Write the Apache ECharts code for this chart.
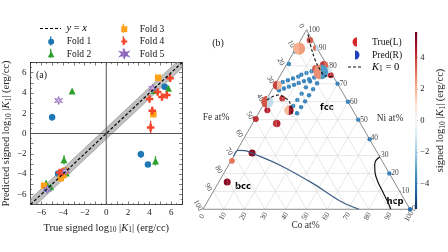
<!DOCTYPE html>
<html>
<head>
<meta charset="utf-8">
<style>
  html, body { margin: 0; padding: 0; background: #fff; }
  #chart { width: 448px; height: 252px; }
</style>
</head>
<body>
<div id="chart"></div>
<script src="https://cdn.jsdelivr.net/npm/echarts@6/dist/echarts.min.js"></script>
<script>
// ---- panel (a): [true, predicted, error] per fold ----
var fold1 = [[-5.0, 1.6, 0.35], [5.4, 4.6, 0.2], [3.2, -2.05, 0.35], [3.85, -3.05, 0.15], [-4.45, -3.95, 0.15], [-5.5, -5.45, 0.15]];
var fold2 = [[-3.15, 4.2, 0.15], [5.75, 4.45, 0.2], [4.45, 4.25, 0.15], [4.55, -2.7, 0.45], [-3.9, -2.6, 0.45], [-5.55, -4.9, 0.3], [-3.7, -3.9, 0.2], [-5.15, -5.25, 0.2]];
var fold3 = [[4.8, 5.5, 0.15], [4.35, 1.9, 0.3], [-5.75, -5.15, 0.2], [-4.2, -4.4, 0.2], [-3.95, -4.1, 0.2], [-3.75, -3.65, 0.2]];
var fold4 = [[5.9, 5.45, 0.2], [4.75, 4.1, 0.2], [5.15, 3.6, 0.2], [5.6, 3.8, 0.2], [4.0, 3.4, 0.2], [4.25, 2.25, 0.4], [4.1, 0.6, 0.65], [-4.3, -3.85, 0.15], [-4.05, -3.8, 0.2]];
var fold5 = [[-4.4, 3.25, 0.2], [4.3, 4.45, 0.2], [-3.75, -3.7, 0.2], [-5.45, -5.5, 0.15]];
var bandHalf = 0.55;
var axTicks = [-6, -4, -2, 0, 2, 4, 6];

// ---- panel (b): ternary Fe-Co-Ni, compositions in at% ----
var triCo   = [3, 5, 7, 9, 10, 12, 14, 15,  3.5, 5.4, 7.3, 9.3, 11, 13, 15, 17,  16, 15.7, 15.4, 15.1, 14.8, 14.5,  20, 19.7, 19.4, 19.2, 18.9, 18.6,  30, 40, 50, 61, 80, 100, 1, 0.5,
               4.5, 9.5, 15.2, 18.3, 24.3, 22.1, 1.3, 7.4, 3.5, 0.3, 11.7, 13.9, 1.1, 1.6, 8.0, 4.1, 0.5, 18.6];
var triNi   = [71, 72, 73, 74, 75, 76, 77, 77.5,  66.4, 67.4, 68.4, 69.4, 70.5, 71.5, 72.5, 73.5,  71.4, 68, 64.5, 61, 57.6, 54,  70.3, 67, 63.6, 60.2, 57, 53.6,  70, 60, 50, 39, 20, 0, 81, 88,
               94.3, 90, 78.5, 80.3, 74.8, 77.5, 69.2, 61.8, 55.2, 50.4, 47.8, 55.2, 59.9, 89.6, 31.4, 15.2, 27, 76.6];
var triTrue = [-3.8, -3.7, -3.8, -3.6, -3.7, -3.8, -3.6, -3.7,  -3.7, -3.8, -3.6, -3.7, -3.8, -3.7, -3.6, -3.8,  -3.7, -3.6, -3.8, -3.7, -3.6, -3.7,  -3.8, -3.7, -3.6, -3.7, -3.8, -3.7,  -3.9, -3.7, -3.8, -4.0, -3.9, -4.2, -3.6, -3.4,
               3.6, 3.2, 3.5, 4.0, 4.2, -1.2, 3.8, 4.0, 4.5, 4.3, 4.0, 1.8, 3.5, 2.0, 5.0, 5.1, 3.0, 2.6];
var triPred = [-3.7, -3.8, -3.6, -3.7, -3.8, -3.6, -3.7, -3.6,  -3.8, -3.7, -3.7, -3.6, -3.7, -3.8, -3.7, -3.6,  -3.8, -3.7, -3.7, -3.6, -3.7, -3.8,  -3.7, -3.6, -3.7, -3.8, -3.7, -3.6,  -3.8, -3.8, -3.7, -3.9, -4.0, -4.3, -3.7, -3.5,
               3.4, -1.5, 3.0, 3.2, 4.0, -1.0, 2.0, 3.8, 4.2, 4.1, 4.3, 4.5, -1.4, 2.4, 5.2, 5.0, 3.0, -3.2];
var triErr  = [0, 0, 0, 0, 0, 0, 0, 0,  0, 0, 0, 0, 0, 0, 0, 0,  0, 0, 0, 0, 0, 0,  0, 0, 0, 0, 0, 0,  0, 0, 0, 0, 0, 0, 0, 0,
               0.8, 0.5, 1.0, 1.6, 0.6, 0.4, 1.8, 0.6, 0.6, 0.6, 1.2, 2.0, 3.0, 3.0, 1.0, 1.0, 0.5, 4.0];

// phase boundaries and K1 = 0 contours (Co, Ni)
var hcpCo = [70.8, 69.9, 70.5, 72.8, 77, 82.2, 87.4, 90.7];
var hcpNi = [29.2, 27.3, 24.9, 20.6, 15.1, 9.5, 3.9, 0];
var bccCo = [0, 0.6, 3.9, 7.8, 24.9, 46.1, 63.9, 75.4];
var bccNi = [29.5, 32.9, 32.7, 31.4, 24.6, 14.3, 4.6, 0];
var zeroTopCo = [1.9, 6.2, 12.2, 17.5, 21.7, 25.9];
var zeroTopNi = [97.6, 91.5, 83.7, 78.0, 74.5, 73.9];
var zeroLowCo = [0.5, 4.4, 10, 13.8, 17.1];
var zeroLowNi = [60.9, 63.7, 61.3, 57.5, 51.9];
var terTicks = [0, 10, 20, 30, 40, 50, 60, 70, 80, 90, 100];
var terGrid = [10, 20, 30, 40, 50, 60, 70, 80, 90];

// colour bar
var cbMin = -5.6, cbMax = 5.6;
var cbTicks = [-4, -2, 0, 2, 4];

var SERIF = 'Liberation Serif';
var C1 = '#1f77b4', C2 = '#2ca02c', C3 = '#ffa21a', C4 = '#f4452a', C5 = '#9b78c4';
var rdbu = ['#053061', '#2166ac', '#4393c3', '#92c5de', '#d1e5f0', '#f7f7f7', '#fddbc7', '#f4a582', '#d6604d', '#b2182b', '#67001f'];
function hex2rgb(h) { return [parseInt(h.substr(1, 2), 16), parseInt(h.substr(3, 2), 16), parseInt(h.substr(5, 2), 16)]; }
function cmap(v) {
    var t = Math.max(0, Math.min(1, (v - cbMin) / (cbMax - cbMin)));
    var f = t * (rdbu.length - 1), i = Math.min(Math.floor(f), rdbu.length - 2), u = f - i;
    var a = hex2rgb(rdbu[i]), b = hex2rgb(rdbu[i + 1]);
    return 'rgb(' + [0, 1, 2].map(function (k) { return Math.round(a[k] + (b[k] - a[k]) * u); }).join(',') + ')';
}
var S3 = Math.sqrt(3) / 2;
function tern(co, ni) { return [co + ni / 2, ni * S3]; }
function fmt(v) { return String(v).replace('-', '\u2212'); }
function curve(co, ni) { return co.map(function (c, i) { return tern(c, ni[i]); }); }

var nameRich = {
    n: { fontFamily: SERIF, fontSize: 10.5, color: '#222', verticalAlign: 'middle', lineHeight: 13 },
    i: { fontFamily: SERIF, fontSize: 10.5, color: '#222', fontStyle: 'italic', verticalAlign: 'middle', lineHeight: 13 },
    s: { fontFamily: SERIF, fontSize: 7.5, color: '#222', verticalAlign: 'bottom', lineHeight: 8 }
};
var xName = '{n|True signed log}{s|10}{n| |}{i|K}{s|1}{n|| (erg/cc)}';
var yName = '{n|Predicted signed log}{s|10}{n| |}{i|K}{s|1}{n|| (erg/cc)}';
var cbName = '{n|signed log}{s|10}{n| |}{i|K}{s|1}{n|| (erg/cc)}';

var SYM_TRI = 'path://M5,0L10,9H0Z';
var SYM_SQ = 'path://M0,0H10V10H0Z';
var SYM_PLUS = 'path://M2,0H4V2H6V4H4V6H2V4H0V2H2Z';
var SYM_STAR = 'path://M3,0L3.8,2.2L6,1.5L4.6,3L6,4.5L3.8,3.8L3,6L2.2,3.8L0,4.5L1.4,3L0,1.5L2.2,2.2Z';

function frameAxis(pos, labels) {
    return {
        gridIndex: 0, type: 'value', min: -7, max: 7, interval: 1, position: pos,
        axisLine: { onZero: false, lineStyle: { color: '#222', width: 0.8 } },
        axisTick: { inside: true, length: 3, lineStyle: { color: '#222', width: 0.6 } },
        minorTick: { show: true, splitNumber: 2, length: 1.6, lineStyle: { color: '#222', width: 0.5 } },
        axisLabel: labels ? { customValues: axTicks, formatter: fmt, fontFamily: SERIF, fontSize: 9, color: '#222', margin: 4 } : { show: false },
        splitLine: { show: false }
    };
}

function errSeries(data, color) {
    return {
        type: 'custom', xAxisIndex: 0, yAxisIndex: 0, data: data, silent: true, clip: true,
        encode: { x: 0, y: 1 },
        renderItem: function (params, api) {
            var x = api.value(0), y = api.value(1), e = api.value(2);
            var a = api.coord([x, y - e]), b = api.coord([x, y + e]);
            return { type: 'line', shape: { x1: a[0], y1: a[1], x2: b[0], y2: b[1] }, style: { stroke: color, lineWidth: 1.3 } };
        }
    };
}
function foldSeries(name, data, color, symbol, size, border) {
    return {
        name: name, type: 'scatter', xAxisIndex: 0, yAxisIndex: 0, symbol: symbol, symbolSize: size,
        data: data.map(function (d) { return [d[0], d[1]]; }),
        itemStyle: { color: color, borderColor: border || color, borderWidth: border ? 0.8 : 0, opacity: 1 }
    };
}
function legendBar(x, y, color) {
    return { type: 'line', z: 10, shape: { x1: x, y1: y - 4.5, x2: x, y2: y + 4.5 }, style: { stroke: color, lineWidth: 1.3 } };
}

var markers = triCo.map(function (c, i) {
    var p = tern(c, triNi[i]);
    return [p[0], p[1], triTrue[i], triPred[i], triErr[i]];
});

var legendText = { fontFamily: SERIF, fontSize: 9.5, color: '#111', lineHeight: 12.4 };
var myChart = echarts.init(document.getElementById('chart'), null, { renderer: 'canvas' });
var option = {
    animation: false,
    backgroundColor: '#fff',
    grid: [
        { left: 30, top: 62.5, width: 152, height: 142 },
        { left: 203, top: 30, width: 207, height: 207 * S3 },
        { left: 415, top: 32, width: 8.5, height: 177 }
    ],
    xAxis: [
        Object.assign(frameAxis('bottom', true), { name: xName, nameLocation: 'middle', nameGap: 14, nameTextStyle: { rich: nameRich } }),
        frameAxis('top', false),
        { gridIndex: 1, type: 'value', min: 0, max: 100, show: false },
        { gridIndex: 2, type: 'value', min: 0, max: 1, show: false }
    ],
    yAxis: [
        Object.assign(frameAxis('left', true), { name: yName, nameLocation: 'middle', nameGap: 17, nameRotate: 90, nameTextStyle: { rich: nameRich } }),
        frameAxis('right', false),
        { gridIndex: 1, type: 'value', min: 0, max: 100 * S3, show: false },
        {
            gridIndex: 2, type: 'value', min: cbMin, max: cbMax, position: 'right',
            axisLine: { show: false },
            axisTick: { show: true, customValues: cbTicks, length: 2.5, lineStyle: { color: '#222', width: 0.6 } },
            axisLabel: { customValues: cbTicks, formatter: fmt, fontFamily: SERIF, fontSize: 8.5, color: '#222', margin: 3 },
            splitLine: { show: false },
            name: cbName, nameLocation: 'middle', nameRotate: 90, nameGap: 17, nameTextStyle: { rich: nameRich }
        }
    ],
    legend: [
        {
            data: [{ name: 'Fold 1', icon: 'circle' }, { name: 'Fold 2', icon: SYM_TRI }],
            left: 47.8, top: 35.6, orient: 'vertical', selectedMode: false, padding: 0,
            itemWidth: 21, itemHeight: 6, itemGap: 0, textStyle: legendText
        },
        {
            data: [{ name: 'Fold 3', icon: SYM_SQ }, { name: 'Fold 4', icon: SYM_PLUS }, { name: 'Fold 5', icon: SYM_STAR }],
            left: 120.3, top: 23, orient: 'vertical', selectedMode: false, padding: 0,
            itemWidth: 21, itemHeight: 6, itemGap: 0, textStyle: legendText
        }
    ],
    graphic: [
        legendBar(50.7, 41, C1), legendBar(50.7, 53.3, C2),
        legendBar(123.3, 28.3, C3), legendBar(123.3, 40.7, C4), legendBar(123.3, 53.1, C5),
        { type: 'line', shape: { x1: 40, y1: 28.5, x2: 61, y2: 28.5 }, style: { stroke: '#000', lineWidth: 1.2, lineDash: [3, 2] } },
        { type: 'text', x: 66.5, y: 28.5, style: { text: '{i|y}{n| = }{i|x}', rich: nameRich, verticalAlign: 'middle' } },
        { type: 'text', x: 41.5, y: 75, style: { text: '(a)', fontFamily: SERIF, fontSize: 10, fill: '#222', align: 'center', verticalAlign: 'middle' } },
        { type: 'text', x: 218, y: 43, style: { text: '(b)', fontFamily: SERIF, fontSize: 10, fill: '#222', align: 'center', verticalAlign: 'middle' } },
        { type: 'sector', shape: { cx: 357, cy: 42, r: 4.5, r0: 0, startAngle: Math.PI / 2, endAngle: Math.PI * 1.5, clockwise: true }, style: { fill: '#d62728' } },
        { type: 'sector', shape: { cx: 355, cy: 55, r: 4.5, r0: 0, startAngle: -Math.PI / 2, endAngle: Math.PI / 2, clockwise: true }, style: { fill: '#1f3fbf' } },
        { type: 'line', shape: { x1: 348, y1: 67, x2: 362, y2: 67 }, style: { stroke: '#111', lineWidth: 1.1, lineDash: [3, 2] } },
        { type: 'text', x: 372, y: 42, style: { text: 'True(L)', fontFamily: SERIF, fontSize: 9.5, fill: '#111', verticalAlign: 'middle' } },
        { type: 'text', x: 372, y: 55, style: { text: 'Pred(R)', fontFamily: SERIF, fontSize: 9.5, fill: '#111', verticalAlign: 'middle' } },
        { type: 'text', x: 372, y: 67, style: { text: '{i|K}{s|1}{n| = 0}', rich: nameRich, verticalAlign: 'middle' } },
        { type: 'text', x: 216, y: 117, style: { text: 'Fe at%', fontFamily: SERIF, fontSize: 9.5, fill: '#333', align: 'center', verticalAlign: 'middle' } },
        { type: 'text', x: 390, y: 118, style: { text: 'Ni at%', fontFamily: SERIF, fontSize: 9.5, fill: '#333', align: 'center', verticalAlign: 'middle' } },
        { type: 'text', x: 305.5, y: 225, style: { text: 'Co at%', fontFamily: SERIF, fontSize: 9.5, fill: '#333', align: 'center', verticalAlign: 'middle' } },
        { type: 'text', x: 327, y: 108, style: { text: 'fcc', fontFamily: 'DejaVu Sans', fontWeight: 'bold', fontSize: 8.5, fill: '#000', align: 'center', verticalAlign: 'middle' } },
        { type: 'text', x: 243, y: 187, style: { text: 'bcc', fontFamily: 'DejaVu Sans', fontWeight: 'bold', fontSize: 8.5, fill: '#000', align: 'center', verticalAlign: 'middle' } },
        { type: 'text', x: 395, y: 202, style: { text: 'hcp', fontFamily: 'DejaVu Sans', fontWeight: 'bold', fontSize: 8.5, fill: '#000', align: 'center', verticalAlign: 'middle' } }
    ],
    series: [
        // uncertainty band around y = x
        {
            type: 'custom', xAxisIndex: 0, yAxisIndex: 0, data: [[0, 0]], silent: true, clip: true,
            renderItem: function (params, api) {
                var pts = [[-7, -7 - bandHalf], [7, 7 - bandHalf], [7, 7 + bandHalf], [-7, -7 + bandHalf]].map(function (p) { return api.coord(p); });
                return { type: 'polygon', shape: { points: pts }, style: { fill: 'rgba(140,140,140,0.55)', stroke: '#888', lineWidth: 0.6 } };
            }
        },
        { type: 'line', xAxisIndex: 0, yAxisIndex: 0, data: [[0, -7], [0, 7]], symbol: 'none', silent: true, lineStyle: { color: '#555', width: 1 } },
        { type: 'line', xAxisIndex: 0, yAxisIndex: 0, data: [[-7, 0], [7, 0]], symbol: 'none', silent: true, lineStyle: { color: '#555', width: 1 } },
        { type: 'line', xAxisIndex: 0, yAxisIndex: 0, data: [[-7, -7], [7, 7]], symbol: 'none', silent: true, lineStyle: { color: '#000', width: 1.2, type: [3, 2] } },
        errSeries(fold1, C1), foldSeries('Fold 1', fold1, C1, 'circle', 6.5),
        errSeries(fold2, C2), foldSeries('Fold 2', fold2, C2, 'triangle', 7),
        errSeries(fold3, C3), foldSeries('Fold 3', fold3, C3, 'rect', 6.5),
        errSeries(fold4, C4), foldSeries('Fold 4', fold4, C4, SYM_PLUS, 7.5),
        errSeries(fold5, C5), foldSeries('Fold 5', fold5, '#c8b4e0', SYM_STAR, 8, '#8a63b8'),

        // ternary grid lines
        {
            type: 'custom', xAxisIndex: 2, yAxisIndex: 2, data: terGrid.map(function (k) { return [k, 0]; }), silent: true, clip: false,
            renderItem: function (params, api) {
                var k = api.value(0);
                var segs = [
                    [tern(100 - k, 0), tern(0, 100 - k)],
                    [tern(k, 0), tern(k, 100 - k)],
                    [tern(0, k), tern(100 - k, k)]
                ];
                return {
                    type: 'group', children: segs.map(function (s) {
                        var a = api.coord(s[0]), b = api.coord(s[1]);
                        return { type: 'line', shape: { x1: a[0], y1: a[1], x2: b[0], y2: b[1] }, style: { stroke: '#dcdcdc', lineWidth: 0.7 } };
                    })
                };
            }
        },
        // triangle frame
        {
            type: 'custom', xAxisIndex: 2, yAxisIndex: 2, data: [[0, 0]], silent: true, clip: false,
            renderItem: function (params, api) {
                var pts = [tern(0, 0), tern(100, 0), tern(0, 100)].map(function (p) { return api.coord(p); });
                return { type: 'polygon', shape: { points: pts }, style: { fill: 'none', stroke: '#8a8a8a', lineWidth: 1 } };
            }
        },
        // ternary tick labels
        {
            type: 'custom', xAxisIndex: 2, yAxisIndex: 2, data: terTicks.map(function (k) { return [k, 0]; }), silent: true, clip: false,
            renderItem: function (params, api) {
                var k = api.value(0);
                var pl = api.coord(tern(0, 100 - k)), pr = api.coord(tern(100 - k, k)), pb = api.coord(tern(k, 0));
                var st = { fontFamily: SERIF, fontSize: 7.5, fill: '#444', verticalAlign: 'middle' };
                return {
                    type: 'group', children: [
                        { type: 'text', x: pl[0] - 5, y: pl[1] - 4, rotation: -Math.PI / 3, style: Object.assign({ text: String(k), align: 'center' }, st) },
                        { type: 'text', x: pr[0] + 2, y: pr[1], style: Object.assign({ text: String(k), align: 'left' }, st) },
                        { type: 'text', x: pb[0] - 1, y: pb[1] + 7, rotation: Math.PI / 3, style: Object.assign({ text: String(k), align: 'center' }, st) },
                        { type: 'line', shape: { x1: pr[0], y1: pr[1], x2: pr[0] + 1.5, y2: pr[1] }, style: { stroke: '#666', lineWidth: 0.6 } }
                    ]
                };
            }
        },
        // phase boundaries and K1 = 0
        { type: 'line', xAxisIndex: 2, yAxisIndex: 2, data: curve(bccCo, bccNi), smooth: 0.4, symbol: 'none', silent: true, lineStyle: { color: '#3f5f86', width: 1.2 } },
        { type: 'line', xAxisIndex: 2, yAxisIndex: 2, data: curve(hcpCo, hcpNi), smooth: 0.4, symbol: 'none', silent: true, lineStyle: { color: '#111', width: 1.2 } },
        { type: 'line', xAxisIndex: 2, yAxisIndex: 2, data: curve(zeroTopCo, zeroTopNi), smooth: 0.4, symbol: 'none', silent: true, lineStyle: { color: '#111', width: 1.1, type: [3, 2] } },
        { type: 'line', xAxisIndex: 2, yAxisIndex: 2, data: curve(zeroLowCo, zeroLowNi), smooth: 0.4, symbol: 'none', silent: true, lineStyle: { color: '#111', width: 1.1, type: [3, 2] } },
        // half-disc markers: left = true, right = predicted
        {
            type: 'custom', xAxisIndex: 2, yAxisIndex: 2, data: markers, silent: true, clip: false,
            encode: { x: 0, y: 1 },
            renderItem: function (params, api) {
                var p = api.coord([api.value(0), api.value(1)]);
                var r = 2.2 + 1.3 * api.value(4);
                return {
                    type: 'group', children: [
                        { type: 'sector', shape: { cx: p[0], cy: p[1], r: r, r0: 0, startAngle: Math.PI / 2, endAngle: Math.PI * 1.5, clockwise: true }, style: { fill: cmap(api.value(2)) } },
                        { type: 'sector', shape: { cx: p[0], cy: p[1], r: r, r0: 0, startAngle: -Math.PI / 2, endAngle: Math.PI / 2, clockwise: true }, style: { fill: cmap(api.value(3)) } }
                    ]
                };
            }
        },
        // colour bar
        {
            type: 'custom', xAxisIndex: 3, yAxisIndex: 3, data: [[0, 0]], silent: true, clip: false,
            renderItem: function (params, api) {
                var a = api.coord([0, cbMin]), b = api.coord([1, cbMax]);
                return {
                    type: 'rect', shape: { x: a[0], y: b[1], width: b[0] - a[0], height: a[1] - b[1] },
                    style: {
                        fill: {
                            type: 'linear', x: 0, y: 1, x2: 0, y2: 0,
                            colorStops: rdbu.map(function (c, i) { return { offset: i / (rdbu.length - 1), color: c }; })
                        }
                    }
                };
            }
        }
    ]
};
myChart.setOption(option);
</script>
</body>
</html>
